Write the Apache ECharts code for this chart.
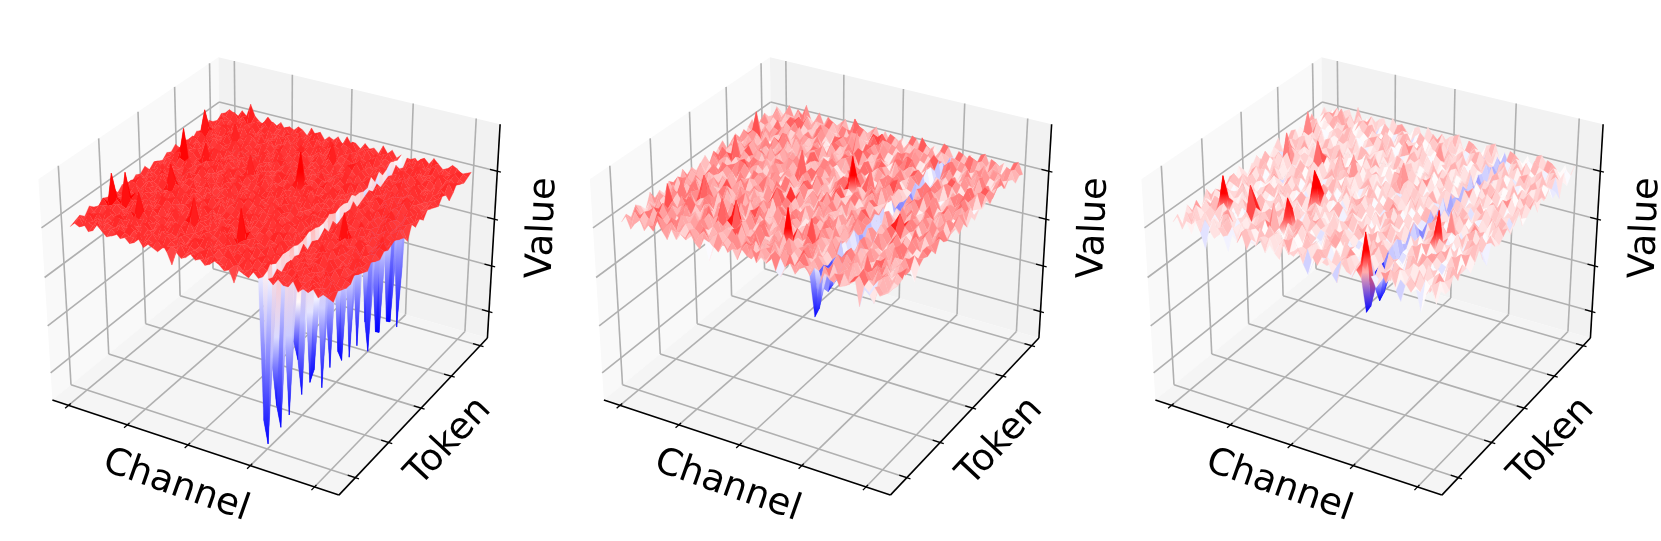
<!DOCTYPE html>
<html>
<head>
<meta charset="utf-8">
<script src="https://cdn.jsdelivr.net/npm/echarts@6/dist/echarts.min.js"></script>
<style>
  html, body { margin: 0; padding: 0; background: #fff; }
  #chart { width: 1661px; height: 541px; }
</style>
</head>
<body>
<div id="chart"></div>
<script>
// tick positions as a fraction of each box edge (the labels are blank in the picture)
const channelTicks = [0.06, 0.275, 0.49, 0.705, 0.92]
const tokenTicks = [0.1, 0.31, 0.525, 0.735, 0.945]
const valueTicks = [0.13, 0.35, 0.57, 0.79]
const axisNames = ['Channel', 'Token', 'Value']

// plateau level of each panel, in percent of box height
const plateauA = 78
const plateauB = 78
const plateauC = 77

// the low channel column (one value per token, front to back), offset from plateau
const lowChannelA = [-61,-74,-40,-60,-72,-35,-70,-38,-48,-66,-30,-64,-60,-33,-72,-42,-66,-30,-62,-68,-36,-70,-40,-68,-28,-60,-76,-44,-70,-72,-38,-70,-72,-45,-78,-50]
const lowChannelB = [-15,-13,-6,-9,-8,-7,-4,-5,-3,-5,-4,-6,-3,-4,-5,-3,-5,-4,-3,-5,-4,-6,-3,-4,-5,-3,-4,-3,-5,-3,-4,-5,-3,-4,-2,-3]
const lowChannelC = [-12,-11,-5,-12,-10,-6,-4,-2,-5,-3,-1,-5,-3,-6,-2,-4,-3,-5,-1,-4,-2,-5,-3,-1,-4,-2,-3,-5,-1,-3,-2,-4,-1,-3,-2,-1]

// offset from plateau for every token row, front to back; each row skips the low channel
const rowsA = [
[0,2,1,3,0,1,4,2,0,1,3,1,2,0, 1,3,0,2,1,0,4,1,-4,2,0,1,3,1, 2,0,1,3,2,0,1,-4,2,1,0,3,1, 2,0,3,1,1,4,0,2,1,3,0,2,1,0],
[1,3,0,2,1,4,0,1,2,0,3,2,1,1, 4,0,2,1,3,0,1,2,1,4,0,2,1,3, 0,2,3,1,0,4,1,2,0,1,3,2,0, 1,3,1,0,2,4,1,0,3,2,1,0,2,3],
[2,0,4,1,3,0,2,1,1,3,0,4,2,0, 1,2,3,0,1,4,2,0,3,1,2,1,0,2, 4,1,0,2,1,3,0,2,4,1,0,2,1, 3,0,2,1,4,0,1,3,2,0,1,4,1,2],
[0,1,2,3,0,2,1,4,3,0,1,2,0,4, 2,1,0,3,2,1,1,3,0,2,4,1,0,3, 1,2,0,4,1,3,2,0,1,3,1,2,4, 0,1,3,2,0,2,1,3,0,4,2,1,0,1],
[3,1,0,1,4,2,0,3,1,2,4,0,1,3, 0,2,4,1,1,0,3,2,1,0,2,3,4,0, 2,1,3,0,2,1,4,1,0,2,3,0,1, 2,4,0,1,3,1,2,0,4,1,0,3,2,1],
[1,2,3,0,2,0,3,1,4,0,1,2,3,1, 2,0,1,2,4,3,0,1,2,1,3,0,1,2, 0,4,1,2,3,0,1,4,2,0,1,3,2, 1,0,2,3,1,4,0,2,1,3,0,1,2,4],
[0,4,1,2,3,1,0,2,1,11,3,0,2,1, 3,1,2,0,1,2,4,0,1,3,2,1,0,4, 1,3,0,2,1,0,3,1,2,4,0,1,3, 2,1,3,0,2,1,0,4,1,2,3,0,1,2],
[2,1,14,3,1,0,2,4,0,1,2,3,1,0, 1,3,0,4,2,1,0,3,2,0,1,2,4,1, 3,0,14,1,2,3,1,0,2,1,4,0,2, 1,3,0,1,2,4,1,3,0,2,1,0,3,1],
[1,0,2,1,14,2,3,0,1,3,1,2,4,0, 2,4,1,0,3,11,1,2,0,4,1,0,2,3, 0,1,2,3,1,0,4,2,1,0,3,1,2, 4,0,1,2,3,0,1,2,1,0,3,4,1,0],
[3,2,1,0,2,4,1,2,3,0,2,1,0,3, 1,0,2,3,1,0,2,1,4,0,3,1,2,0, 2,3,1,0,2,1,0,3,4,1,2,0,1, 0,2,1,4,1,3,0,2,1,3,0,2,1,3],
[0,1,3,2,1,0,3,1,0,2,4,3,1,2, 0,3,1,2,0,4,1,3,0,2,1,2,3,1, 4,0,2,1,3,2,0,1,2,3,0,4,1, 2,3,0,1,0,2,4,1,0,3,1,2,0,1],
[2,0,1,4,0,3,2,1,4,1,0,2,3,0, 1,2,4,0,1,3,2,0,1,3,2,0,1,4, 0,2,3,1,0,1,4,2,0,1,3,1,2, 0,1,2,3,1,0,2,1,3,0,4,1,2,0],
[1,3,2,0,1,2,0,3,1,2,3,0,1,4, 2,0,1,3,1,0,2,4,1,0,3,2,1,2, 3,1,0,2,4,0,1,3,2,1,0,2,3, 1,4,0,2,1,3,0,1,4,2,0,1,3,2],
[0,2,4,1,3,1,2,0,1,0,2,4,2,1, 3,1,0,2,4,1,3,0,2,1,0,4,2,0, 1,3,2,0,1,3,0,2,1,4,1,0,2, 3,1,2,0,12,1,3,0,2,1,0,2,4,1],
[2,1,0,3,1,0,4,2,11,3,1,0,2,3, 1,0,3,2,1,2,0,3,1,4,2,0,1,3, 2,0,1,4,2,1,0,3,1,2,0,3,1, 0,2,4,1,3,0,1,2,0,3,1,4,0,2],
[1,0,3,1,2,4,0,1,3,0,2,1,4,0, 2,3,1,0,2,1,4,0,1,2,3,1,0,2, 1,4,0,3,1,2,0,1,3,2,4,0,1, 3,1,0,2,1,2,4,0,3,1,0,2,1,3],
[3,2,1,0,4,1,2,3,0,1,3,2,0,1, 4,0,2,1,3,0,1,2,3,0,1,4,2,1, 0,2,1,3,0,4,1,2,0,3,1,1,2, 0,3,2,1,0,4,1,2,0,1,3,2,0,1],
[0,1,2,4,0,3,1,0,2,4,1,0,3,2, 1,2,0,3,1,4,0,2,1,3,0,2,1,3, 2,0,4,1,3,0,2,1,0,1,3,2,4, 1,0,2,3,1,0,3,1,2,4,0,1,3,0],
[2,3,0,1,2,1,0,4,3,1,2,0,1,3, 0,1,4,2,0,3,2,1,0,1,4,2,3,0, 1,3,2,0,1,2,4,0,3,1,2,0,1, 2,4,1,0,3,1,2,0,1,3,0,2,1,-3],
[1,0,2,3,1,0,2,1,0,3,4,1,2,0, 3,1,2,0,4,1,0,3,2,1,0,2,1,4, 3,0,1,2,3,1,0,4,1,2,0,3,2, 1,0,3,1,4,0,2,1,3,2,0,1,2,3],
[0,2,1,0,3,2,4,1,2,0,1,3,0,2, 1,4,0,1,2,3,1,0,2,4,1,3,0,2, 1,2,3,0,1,4,0,2,1,3,1,0,2, 4,1,2,0,1,3,0,2,4,1,0,3,1,0],
[2,1,3,4,15,1,0,2,1,3,0,2,4,1, 0,2,3,1,0,2,1,4,3,0,2,1,0,3, 2,0,1,3,4,0,1,2,3,0,1,2,1, 0,3,2,1,0,2,4,1,0,3,1,2,0,2],
[1,0,4,2,0,3,1,2,9,1,2,4,0,3, 1,0,2,1,9,0,3,1,2,0,4,1,2,0, 3,16,2,0,1,3,2,0,4,1,2,0,3, 1,2,0,4,1,3,0,2,1,0,3,1,4,0],
[3,1,0,2,1,4,0,3,1,0,2,1,3,2, 0,4,1,2,0,3,1,2,0,1,3,2,4,0, 1,2,0,3,1,2,4,0,1,3,0,2,1, 2,0,1,3,2,0,4,1,3,0,2,1,0,3],
[0,2,3,1,2,0,1,2,4,3,0,2,1,0, 3,1,0,4,2,1,3,0,1,2,0,3,1,2, 4,0,1,3,2,1,0,2,1,3,4,0,1, 3,1,2,0,1,3,0,2,4,1,2,0,1,2],
[2,0,1,3,0,4,2,1,0,2,3,1,0,4, 1,2,3,0,1,2,0,4,1,3,2,0,1,3, 0,2,1,4,0,1,3,2,0,1,2,3,0, 1,4,0,2,3,1,2,0,1,3,1,0,2,1],
[1,3,2,0,4,1,0,3,2,1,0,2,3,1, 0,2,1,4,3,0,1,2,3,0,1,2,4,1, 2,0,3,1,0,2,1,4,3,0,1,2,0, 3,1,2,1,0,4,0,2,1,3,0,1,2,0],
[0,1,4,2,1,3,0,2,1,3,4,0,2,1, 3,0,1,2,0,3,4,1,0,2,1,3,0,2, 1,3,2,0,4,1,2,0,1,3,0,2,4, 0,2,1,3,0,2,1,4,0,1,3,2,1,3],
[2,2,0,1,3,0,2,4,1,0,1,3,2,0, 1,4,2,0,3,1,0,2,1,4,0,3,1,2, 0,1,3,2,0,1,4,2,0,3,1,2,0, 1,3,0,2,4,1,0,3,1,2,0,1,3,2],
[1,11,2,3,0,1,4,0,8,2,1,0,3,1, 2,0,3,1,2,4,0,1,3,2,1,0,2,4, 1,3,0,2,1,0,3,4,1,2,0,1,3, 2,0,1,3,1,0,4,2,1,0,3,2,1,-2],
[0,2,1,0,4,2,1,3,0,1,3,2,0,4, 1,3,0,2,1,0,3,1,4,2,0,1,3,0, 2,8,1,0,3,2,1,4,0,2,1,3,0, 1,2,4,0,3,1,0,2,3,1,0,2,4,0],
[3,0,2,1,3,0,2,1,4,0,2,1,3,0, 2,1,4,0,3,1,2,0,1,3,2,4,0,1, 3,0,2,1,4,0,2,1,3,0,1,2,1, 4,0,2,1,1,3,0,2,1,4,0,1,2,3],
[1,2,3,0,1,4,0,2,1,3,0,2,1,4, 0,2,1,3,0,1,4,2,3,0,1,2,1,3, 0,4,1,2,0,3,1,0,2,4,1,0,3, 1,0,3,2,4,0,1,2,0,3,1,2,0,1],
[0,3,1,2,0,1,3,2,0,4,1,3,2,0, 1,0,3,2,1,4,0,1,2,3,0,1,4,2, 1,0,3,1,2,0,4,1,3,0,2,1,2, 0,3,1,0,2,1,3,4,0,1,2,3,1,0],
[2,1,0,4,1,3,0,1,2,1,3,0,4,1, 2,3,0,1,2,0,1,3,4,0,2,1,0,3, 2,1,4,0,1,3,2,0,1,2,3,0,1, 3,1,2,4,0,1,3,0,2,1,0,3,2,1],
[1,3,2,1,4,2,8,3,1,0,4,2,1,3, 0,2,1,3,2,0,4,1,3,0,2,1,3,0, 4,1,2,0,3,1,2,0,4,1,3,0,2, 1,2,0,3,1,4,2,0,1,3,2,0,1,2]
]

const rowsB = [
[2,5,0,3,6,1,4,2,7,3,0,5,1,4, 3,6,2,0,5,-4,3,1,6,2,4,0,5,3, 7,1,4,2,6,0,-2,3,5,1,4,6,2, 0,5,3,6,1,2,4,7,-5,3,1,5,2,4],
[4,1,6,3,0,5,2,7,1,4,6,2,3,0, 5,1,4,6,2,0,7,3,1,5,2,4,6,0, 3,5,1,2,6,4,0,7,2,5,3,1,4, 6,2,0,4,5,1,3,6,2,0,-4,4,1,3],
[1,6,3,5,2,0,7,4,2,6,1,3,5,0, 4,2,6,1,3,5,0,4,2,7,1,5,3,6, 0,4,2,5,1,6,3,0,4,7,2,5,1, 3,6,1,4,0,5,2,7,3,1,4,6,0,5],
[5,2,0,4,6,3,1,5,0,3,6,2,4,1, 6,3,0,5,2,4,1,6,3,0,5,2,7,1, 4,3,6,0,5,2,4,1,6,3,0,5,2, 4,1,5,3,6,0,2,4,1,6,3,5,0,2],
[3,0,5,1,4,7,2,6,3,1,4,0,6,2, 5,1,3,6,0,4,2,5,7,1,3,6,0,4, 2,5,1,3,7,0,4,2,6,1,5,3,0, 6,2,4,1,5,0,9,3,6,2,4,1,5,3],
[0,4,2,6,1,3,5,0,4,7,2,5,1,3, 6,0,4,2,5,3,1,6,0,4,2,7,3,1, 5,2,6,0,4,1,3,5,2,6,0,4,1, 3,5,2,7,0,4,1,6,3,5,0,2,4,6],
[6,1,3,0,12,5,2,4,6,1,3,0,5,7, 2,4,12,1,6,13,3,5,0,2,4,6,1,3, 5,0,16,2,4,1,6,3,5,0,2,7,1, 4,6,3,0,5,2,1,4,6,0,3,5,1,4],
[2,5,4,1,3,0,6,2,7,4,1,5,3,0, 6,2,4,1,5,3,0,7,2,4,6,1,3,5, 0,4,2,6,1,3,12,0,5,2,4,1,6, 3,0,5,2,6,1,4,3,0,5,2,6,1,-3],
[4,0,2,6,5,1,3,7,0,2,6,4,1,5, 3,0,7,2,4,1,6,3,5,0,2,4,1,6, 3,5,0,2,7,4,1,6,3,0,5,2,4, 1,6,3,0,4,2,5,1,7,3,0,4,6,2],
[1,3,6,0,9,2,5,1,3,4,6,0,2,5, 1,4,3,6,0,2,5,7,1,3,4,0,6,2, 5,1,3,4,0,6,2,5,1,7,3,0,4, 2,6,1,5,3,0,4,2,6,1,5,0,3,4],
[5,2,0,3,1,6,4,5,12,0,3,6,1,4, 2,5,0,3,6,1,4,2,5,0,7,3,1,6, 4,2,0,5,3,1,6,4,2,0,5,3,6, 1,4,2,7,0,3,5,1,6,4,2,0,5,3],
[3,6,1,4,2,7,0,3,5,1,4,2,6,0, 3,5,7,1,2,4,6,0,3,1,5,2,4,6, 0,3,1,5,4,2,6,0,3,5,1,4,2, 6,0,3,5,1,4,7,2,0,6,3,1,5,4],
[0,4,5,2,6,1,3,0,4,2,5,6,1,3, 7,0,2,4,5,1,3,6,0,4,2,5,1,3, 6,0,2,4,1,5,3,6,0,2,4,7,1, 5,3,0,6,2,4,1,5,3,6,0,2,4,1],
[6,2,1,5,3,0,4,6,2,1,7,3,0,5, 4,2,6,1,3,0,5,9,2,6,4,1,3,0, 5,2,6,1,4,3,0,5,2,6,1,4,3, 0,5,2,6,4,1,3,0,7,2,5,1,4,6],
[2,5,3,0,4,6,1,2,5,3,0,4,6,1, 2,5,3,0,7,4,1,6,2,9,5,0,3,4, 1,6,2,5,3,0,4,1,6,2,7,5,3, 0,4,1,6,10,5,3,0,2,4,6,1,5,3],
[4,1,6,2,5,3,0,4,1,7,2,5,3,6, 0,4,1,5,2,6,3,0,4,1,6,2,5,0, 3,4,1,6,2,5,0,3,4,1,6,2,5, 7,0,3,1,4,6,2,5,0,3,1,4,6,2],
[1,5,0,3,6,2,4,1,5,0,6,3,2,4, 1,5,7,0,6,3,2,4,1,5,0,3,6,2, 4,7,1,0,5,3,6,2,4,1,0,5,3, 6,2,4,1,0,5,3,6,2,7,4,1,0,5],
[3,0,4,1,2,6,5,3,0,4,1,2,6,5, 3,0,4,1,2,7,5,0,3,6,4,1,2,5, 0,3,6,4,1,5,2,0,3,6,4,1,5, 2,0,7,3,6,4,1,5,2,0,3,6,1,4],
[5,2,6,3,0,1,4,5,7,6,3,0,1,4, 2,5,6,3,0,4,1,2,5,6,3,0,4,1, 2,5,7,3,0,6,4,1,2,5,3,0,6, 4,1,2,5,3,0,6,4,1,7,2,5,3,0],
[0,6,2,4,5,3,1,0,6,2,4,5,3,1, 6,0,2,4,3,5,1,6,0,2,7,3,5,1, 4,6,0,2,3,5,1,4,6,0,2,3,5, 1,4,6,0,2,3,7,1,4,5,0,2,6,3],
[2,3,7,5,1,4,0,2,3,6,5,1,4,0, 6,2,3,5,1,0,4,6,2,3,5,1,0,4, 6,2,3,1,5,0,4,6,2,7,1,5,0, 3,4,6,2,1,5,0,3,4,6,2,1,5,0],
[4,0,1,3,12,2,6,4,0,1,3,5,2,6, 4,0,3,1,5,13,2,6,4,0,3,1,5,2, 6,4,16,0,3,1,5,2,4,6,0,3,1, 5,2,4,6,0,7,3,1,5,2,4,6,0,3],
[6,3,5,0,2,1,7,3,6,5,0,2,1,4, 3,6,5,2,0,1,4,3,6,5,2,7,0,1, 4,3,6,2,5,10,1,4,3,6,2,5,0, 1,4,3,7,2,5,0,1,4,3,6,2,5,0],
[1,4,2,6,3,5,0,1,4,2,7,3,5,0, 4,1,6,2,3,5,0,4,1,6,2,3,0,5, 1,4,6,2,3,0,5,1,4,6,7,3,0, 5,1,4,6,2,0,3,5,1,4,6,2,0,3],
[3,5,0,2,4,6,1,3,5,0,2,4,6,1, 5,3,0,2,7,4,1,6,5,3,0,2,1,4, 6,5,3,0,2,1,4,6,5,3,0,2,1, 4,7,5,3,0,1,2,4,6,5,3,0,1,2],
[5,1,3,6,0,2,4,7,1,3,6,0,2,4, 1,5,3,0,6,2,4,1,5,3,0,6,2,4, 1,7,3,0,6,4,2,1,5,3,0,6,4, 2,1,5,3,6,0,4,2,1,7,3,6,0,4],
[2,6,4,1,5,3,0,2,6,4,1,5,3,0, 6,2,4,5,1,3,0,6,2,4,5,1,7,0, 3,6,2,4,5,1,0,3,6,2,4,5,1, 0,3,6,2,5,4,1,0,3,6,2,5,4,1],
[0,3,5,4,1,6,2,0,3,7,4,1,6,2, 3,0,5,4,6,1,2,3,0,5,4,6,1,2, 3,0,5,6,4,1,7,2,3,0,5,6,4, 1,2,3,0,6,5,4,1,2,3,0,6,5,4],
[4,2,12,0,6,1,3,4,2,5,0,6,1,3, 2,4,5,0,1,6,3,2,4,5,0,7,6,3, 2,4,5,1,0,6,3,2,4,5,1,0,6, 3,2,4,1,5,0,6,3,2,7,1,5,0,6],
[6,0,1,3,2,5,4,6,0,1,3,2,5,4, 0,6,1,2,3,5,4,0,6,1,2,3,5,4, 0,6,2,1,3,5,4,7,6,2,1,3,5, 0,4,6,2,1,3,5,0,4,6,2,1,3,5],
[1,4,3,5,0,7,2,1,4,3,6,0,5,2, 4,1,3,0,6,5,2,4,1,10,0,6,5,2, 4,1,0,3,6,2,5,4,1,0,3,6,2, 5,7,1,0,3,6,2,5,4,1,0,3,6,2],
[3,6,2,0,4,1,5,3,6,2,0,4,1,5, 6,3,0,2,4,5,1,6,3,0,2,4,5,1, 6,3,2,0,4,5,1,6,3,2,0,7,5, 1,6,3,2,4,0,5,1,6,3,2,4,0,5],
[5,0,4,2,1,3,6,5,7,4,2,1,3,6, 0,5,2,4,1,3,6,0,5,2,4,7,3,6, 0,5,4,2,1,3,6,0,5,4,2,1,3, 6,0,5,4,1,2,3,6,0,5,4,1,2,3],
[2,3,6,1,5,0,4,2,3,6,1,5,0,4, 3,2,1,6,5,0,4,3,2,1,6,5,7,4, 3,2,6,1,5,0,4,3,2,6,1,5,0, 4,3,2,7,6,5,0,1,4,3,2,6,5,0],
[0,5,1,4,3,2,6,0,5,1,4,3,2,6, 5,0,4,1,3,9,6,5,0,4,1,3,2,6, 5,0,1,4,3,2,8,5,0,1,4,3,2, 6,5,0,1,3,4,2,6,5,0,1,3,4,2],
[4,2,0,6,1,5,3,8,2,0,6,1,5,3, 2,4,6,0,5,1,3,2,4,6,0,5,1,3, 2,4,0,6,5,1,3,2,4,0,6,5,1, 3,2,4,0,5,6,1,3,2,4,0,5,6,1]
]

const rowsC = [
[3,6,1,5,0,7,2,-5,4,1,6,3,-3,5, 2,7,0,4,3,6,1,5,2,0,7,4,3,6, 1,-3,5,2,4,7,0,-3,6,3,1,5,2, 4,0,7,3,6,1,-3,5,2,4,-5,3,7,0],
[5,1,7,2,4,0,6,3,7,1,5,2,6,0, 4,7,3,1,5,2,6,0,4,7,1,3,5,2, 6,0,7,4,1,3,2,5,7,0,4,6,20, 3,1,5,7,0,4,2,6,3,1,7,5,0,4],
[0,4,2,6,3,7,1,5,0,4,7,3,1,6, 2,5,0,7,4,3,6,1,2,5,7,0,4,3, 6,1,5,2,0,7,3,4,6,1,5,2,8, 7,3,0,4,6,1,5,2,7,3,0,4,6,1],
[6,3,7,0,5,1,4,2,6,7,0,3,5,1, 6,4,2,0,7,3,5,1,6,4,0,2,7,3, 5,1,4,6,0,2,3,7,5,1,4,6,0, 2,3,7,5,4,1,0,6,2,3,5,7,4,1],
[2,7,4,1,6,3,0,5,7,2,4,1,6,0, 3,5,7,1,2,4,0,6,3,5,1,7,2,4, 0,6,5,3,1,7,4,2,0,6,3,5,1, 7,4,2,0,3,6,5,1,7,2,4,0,3,6],
[4,0,6,3,2,5,7,1,4,0,3,6,2,5, 7,1,4,13,3,0,6,2,5,7,1,4,3,0, 6,2,7,5,1,3,4,0,6,2,5,7,1, 3,4,0,6,7,2,5,1,3,4,0,6,7,2],
[1,5,3,7,6,17,2,4,0,5,1,16,7,3, 6,2,4,0,5,15,3,7,6,2,4,1,0,5, 3,7,2,6,4,0,1,5,3,7,2,6,4, 1,0,5,3,2,7,6,4,1,0,5,3,2,7],
[7,2,0,4,1,6,5,3,7,2,0,9,4,1, 6,5,3,7,2,9,0,4,1,6,5,3,2,7, 0,4,6,1,5,3,2,7,0,4,6,1,5, 3,2,7,0,1,4,6,5,3,2,7,0,1,4],
[3,6,5,1,7,0,2,4,3,6,5,1,7,0, 2,4,6,3,5,1,0,7,2,4,6,3,5,1, 7,0,4,2,6,3,1,5,7,0,4,2,6, 3,1,5,7,2,0,4,6,3,1,5,7,2,0],
[0,4,7,5,2,3,6,1,0,4,7,5,2,3, 6,1,4,0,7,2,5,3,6,1,4,0,7,2, 5,3,1,6,4,7,0,2,5,3,1,6,4, 7,0,2,5,6,3,1,4,7,0,2,5,6,3],
[6,1,2,3,4,7,0,5,6,1,2,3,4,7, 0,5,1,6,3,2,4,7,0,5,1,6,3,2, 4,7,5,0,1,3,6,2,4,7,5,0,1, 3,6,2,4,0,7,5,1,3,6,2,4,0,7],
[2,5,4,0,6,1,7,3,2,5,4,0,6,1, 7,3,5,2,0,4,6,1,7,3,5,2,0,4, 6,1,3,7,5,0,2,4,6,1,3,7,5, 0,2,4,6,17,1,3,5,0,2,4,6,7,1],
[5,7,1,6,3,2,0,4,5,7,1,6,3,2, 0,4,7,5,6,18,3,2,0,4,7,5,1,6, 3,2,4,0,7,1,5,6,3,2,4,0,7, 1,5,6,3,2,4,0,7,1,5,6,3,2,-3],
[1,3,6,2,7,4,5,0,1,3,6,2,7,4, 5,0,3,1,2,12,7,4,5,0,3,1,6,2, 7,4,0,5,3,6,1,2,7,4,0,5,3, 6,1,2,7,4,5,0,3,6,1,2,7,4,5],
[7,0,3,5,1,6,2,4,7,0,3,5,1,6, 2,4,0,7,5,3,1,6,2,4,0,7,3,5, 1,6,4,2,0,5,7,3,1,6,4,2,0, 5,7,3,1,12,2,4,0,5,7,3,1,6,2],
[4,2,5,7,0,1,3,6,4,2,5,7,0,1, 3,6,2,4,7,5,0,1,3,6,2,4,5,7, 0,1,6,3,2,7,4,5,0,1,6,3,2, 7,4,5,0,3,1,6,2,7,4,5,0,3,1],
[0,6,1,4,5,3,7,2,0,6,1,4,5,3, 7,2,6,0,4,1,5,3,7,2,6,0,1,4, 5,3,2,7,6,4,0,1,5,3,2,7,6, 4,0,1,5,7,3,2,6,4,0,1,5,7,3],
[3,1,7,6,2,5,4,0,3,1,7,6,2,5, 4,0,1,3,6,7,2,5,4,0,1,3,7,6, 2,5,0,4,1,6,3,7,2,5,0,4,1, 6,3,7,2,4,5,0,1,6,3,7,2,4,5],
[6,4,2,0,7,1,5,3,6,4,2,0,7,1, 5,3,4,6,0,2,7,1,5,3,4,6,2,0, 7,1,3,5,4,0,6,2,7,1,3,5,4, 0,6,2,7,5,1,3,4,0,6,2,7,5,1],
[2,7,5,3,1,6,0,4,2,7,5,3,1,6, 0,4,7,2,3,5,1,6,0,4,7,2,5,3, 1,6,4,0,7,3,2,5,1,6,4,0,7, 3,2,5,1,0,6,4,7,3,2,5,1,0,6],
[5,0,3,6,4,7,1,2,5,0,3,6,4,7, 1,2,0,5,6,3,4,7,1,2,0,5,3,6, 4,7,2,1,0,6,5,3,4,7,2,1,0, 6,5,3,4,1,7,2,0,6,5,3,4,1,7],
[1,6,4,2,14,0,7,5,1,6,4,14,3,0, 7,5,11,1,2,12,3,0,7,5,6,1,4,2, 3,0,5,7,6,2,1,4,3,0,5,7,6, 2,1,4,3,7,0,5,6,2,1,4,3,7,0],
[4,3,0,7,6,2,1,5,4,3,0,7,6,2, 1,5,3,4,7,0,6,2,1,5,3,4,0,7, 6,12,5,1,3,7,4,0,6,2,5,1,3, 7,4,0,6,1,2,5,3,7,4,0,6,1,2],
[7,1,2,5,3,4,6,0,7,1,2,5,3,4, 6,0,1,7,5,2,3,4,6,0,1,7,2,5, 3,4,0,6,1,5,7,2,3,4,0,6,1, 5,7,2,3,6,4,0,1,5,7,2,3,6,4],
[0,5,6,1,2,7,3,4,0,5,6,1,2,7, 3,4,5,0,1,6,2,7,3,4,5,0,6,1, 2,7,4,3,5,1,0,6,2,7,4,3,5, 1,0,6,2,3,7,4,5,1,0,6,2,3,7],
[3,2,4,6,7,0,5,1,3,2,4,6,7,0, 5,1,2,3,6,4,7,0,5,1,2,3,4,6, 7,0,1,5,2,6,3,4,7,0,1,5,2, 6,3,4,7,5,0,1,2,6,3,4,7,5,0],
[6,7,1,3,0,5,2,4,6,7,1,3,0,5, 2,4,7,6,3,1,0,5,2,4,7,6,1,3, 0,5,4,2,7,3,6,1,0,5,4,2,7, 3,6,1,0,2,5,4,7,3,6,1,0,2,5],
[2,0,5,4,6,3,7,1,2,0,5,4,6,3, 7,1,0,2,4,5,6,3,7,1,0,2,5,4, 6,3,1,7,0,4,2,5,6,3,1,7,0, 4,2,5,6,7,3,1,0,4,2,5,6,7,3],
[5,4,13,2,1,6,0,3,5,4,7,2,1,6, 0,3,4,5,2,7,1,6,0,3,4,5,7,2, 1,6,3,0,4,2,5,7,1,6,3,0,4, 2,5,7,1,0,6,3,4,2,5,7,1,0,6],
[1,3,2,7,5,0,4,6,1,3,2,7,5,0, 4,6,3,1,7,2,5,0,4,9,3,1,2,7, 5,0,6,4,3,7,1,2,5,0,6,4,3, 7,1,2,5,4,0,6,3,7,1,2,5,4,0],
[4,6,7,0,3,1,2,5,4,6,7,0,3,1, 2,5,6,4,0,7,3,1,2,5,6,4,7,0, 3,1,10,2,6,0,4,7,3,1,5,2,6, 0,4,7,3,2,1,5,6,0,4,7,3,2,1],
[7,3,0,5,4,2,6,1,7,3,0,5,4,2, 6,1,3,7,5,0,4,2,6,1,3,7,0,5, 4,2,1,6,3,5,7,0,4,2,1,6,3, 5,7,0,4,6,2,1,3,5,7,0,4,6,-3],
[0,2,5,1,6,7,3,4,0,2,5,1,6,7, 3,4,2,0,1,5,6,7,3,4,2,0,5,1, 6,7,4,3,2,1,0,5,6,7,4,3,2, 1,0,5,6,3,7,4,2,1,0,5,6,3,7],
[3,5,6,4,2,9,1,7,3,5,6,4,2,0, 1,7,5,3,4,6,2,0,1,7,5,3,6,4, 2,0,7,1,5,4,3,6,2,0,7,1,5, 4,3,6,2,1,0,7,5,4,3,6,2,1,0],
[6,1,4,7,0,3,5,2,6,1,4,7,0,3, 5,2,1,6,7,4,0,3,5,2,1,6,4,7, 0,3,2,5,1,7,6,4,0,3,2,5,1, 7,6,4,0,5,3,2,1,7,6,4,0,5,3],
[2,4,1,3,5,6,0,8,2,4,1,3,5,6, 0,7,4,2,3,1,5,6,0,7,4,2,1,3, 5,6,7,0,4,3,2,1,5,6,7,0,4, 3,2,1,5,0,6,7,4,3,2,1,5,0,6]
]

const panels = [
  { rows: rowsA, low: lowChannelA, plateau: plateauA, shift: 0 },
  { rows: rowsB, low: lowChannelB, plateau: plateauB, shift: 551.5 },
  { rows: rowsC, low: lowChannelC, plateau: plateauC, shift: 1103 }
]

const lowIndex = 41
const channelCount = 56

// same view as a 3d matplotlib axes: elev 30, azim -60, dist 10
const aspect = [1.5245, 1.5245, 1.19]
const uVec = [0.866, 0.5, 0]
const vVec = [-0.25, 0.433, 0.866]
const wVec = [0.433, -0.75, 0.5]

const dot = (a, b) => a[0] * b[0] + a[1] * b[1] + a[2] * b[2]

function project(bx, by, bz, shift) {
  const q = [(bx - 0.5) * aspect[0], (by - 0.5) * aspect[1], (bz - 0.5) * aspect[2]]
  const d = 10 - dot(wVec, q)
  return {
    xy: [275 + shift + 2150 * dot(uVec, q) / d, 262.9 - 2106 * dot(vVec, q) / d],
    depth: d
  }
}

function bwr(t) {
  t = Math.max(0, Math.min(1, t))
  if (t < 0.5) {
    const c = Math.round(510 * t)
    return `rgb(${c},${c},255)`
  }
  const c = Math.round(510 * (1 - t))
  return `rgb(255,${c},${c})`
}

function buildHeights(panel) {
  return panel.rows.map((row, j) => {
    const out = []
    for (let i = 0; i < channelCount; i++) {
      let d
      if (i < lowIndex) d = row[i]
      else if (i === lowIndex) d = panel.low[j]
      else d = row[i - 1]
      out.push(panel.plateau + (d || 0))
    }
    return out
  })
}

function buildQuads(panel) {
  const z = buildHeights(panel)
  const tokenCount = z.length
  const pos = (i, j) => project(0.06 + 0.88 * i / (channelCount - 1), 0.06 + 0.88 * j / (tokenCount - 1), z[j][i] / 100, panel.shift)
  const quads = []
  for (let j = 0; j < tokenCount - 1; j++) {
    for (let i = 0; i < channelCount - 1; i++) {
      const corners = [pos(i, j), pos(i + 1, j), pos(i + 1, j + 1), pos(i, j + 1)]
      const vals = [z[j][i], z[j][i + 1], z[j + 1][i + 1], z[j + 1][i]]
      const avg = (vals[0] + vals[1] + vals[2] + vals[3]) / 4
      quads.push({
        pts: corners.map(c => c.xy),
        depth: (corners[0].depth + corners[1].depth + corners[2].depth + corners[3].depth) / 4,
        avg,
        top: Math.max(...vals),
        bottom: Math.min(...vals)
      })
    }
  }
  const lo = Math.min(...quads.map(q => q.avg))
  const hi = Math.max(...quads.map(q => q.avg))
  quads.forEach(q => {
    const norm = v => (v - lo) / (hi - lo)
    q.fill = bwr(norm(q.avg))
    // tall sheets fade from pale at the plateau to full colour at the tip
    if (q.top - q.bottom > 14) {
      q.topFill = bwr(norm(q.avg + (q.top - q.avg) * 0.5))
      q.midFill = bwr((norm(q.avg + (q.top - q.avg) * 0.5) + norm(q.avg)) / 2)
      q.bottomFill = bwr(norm(q.avg + (q.bottom - q.avg) * 0.5))
    }
  })
  quads.sort((a, b) => b.depth - a.depth)
  return quads
}

function line3d(a, b, shift, color, width) {
  return { pts: [project(a[0], a[1], a[2], shift).xy, project(b[0], b[1], b[2], shift).xy], color, width }
}

function buildFrame(shift) {
  const walls = [
    { pts: [[0, 0, 0], [0, 1, 0], [0, 1, 1], [0, 0, 1]], fill: '#f9f9f9' },
    { pts: [[0, 1, 0], [1, 1, 0], [1, 1, 1], [0, 1, 1]], fill: '#f2f2f2' },
    { pts: [[0, 0, 0], [1, 0, 0], [1, 1, 0], [0, 1, 0]], fill: '#f5f5f5' }
  ].map(w => ({ fill: w.fill, pts: w.pts.map(p => project(p[0], p[1], p[2], shift).xy) }))

  const lines = []
  const grid = '#b0b0b0'
  channelTicks.forEach(x => {
    lines.push(line3d([x, 0, 0], [x, 1, 0], shift, grid, 1.6))
    lines.push(line3d([x, 1, 0], [x, 1, 1], shift, grid, 1.6))
  })
  tokenTicks.forEach(y => {
    lines.push(line3d([0, y, 0], [1, y, 0], shift, grid, 1.6))
    lines.push(line3d([0, y, 0], [0, y, 1], shift, grid, 1.6))
  })
  valueTicks.forEach(v => {
    lines.push(line3d([0, 0, v], [0, 1, v], shift, grid, 1.6))
    lines.push(line3d([0, 1, v], [1, 1, v], shift, grid, 1.6))
  })
  // axis lines and tick marks
  lines.push(line3d([0, 0, 0], [1, 0, 0], shift, '#000', 1.6))
  lines.push(line3d([1, 0, 0], [1, 1, 0], shift, '#000', 1.6))
  lines.push(line3d([1, 1, 0], [1, 1, 1], shift, '#000', 1.6))
  channelTicks.forEach(x => lines.push(line3d([x, 0.012, 0], [x, -0.018, 0], shift, '#000', 1.3)))
  tokenTicks.forEach(y => lines.push(line3d([0.975, y, 0], [1.012, y, 0], shift, '#000', 1.3)))
  valueTicks.forEach(v => lines.push(line3d([0.975, 1, v], [1.012, 1, v], shift, '#000', 1.3)))
  return { walls, lines }
}

function frameSeries(panel) {
  const { walls, lines } = buildFrame(panel.shift)
  const items = walls.concat(lines)
  return {
    type: 'custom',
    coordinateSystem: 'cartesian2d',
    silent: true,
    clip: false,
    animation: false,
    progressive: 0,
    z: 1,
    data: items.map((_, k) => [k]),
    renderItem(params, api) {
      const it = items[params.dataIndex]
      const pts = it.pts.map(p => api.coord(p))
      if (it.fill) {
        return { type: 'polygon', shape: { points: pts }, style: { fill: it.fill } }
      }
      return {
        type: 'line',
        shape: { x1: pts[0][0], y1: pts[0][1], x2: pts[1][0], y2: pts[1][1] },
        style: { stroke: it.color, lineWidth: it.width, fill: null }
      }
    }
  }
}

function surfaceSeries(panel) {
  const quads = buildQuads(panel)
  return {
    type: 'custom',
    coordinateSystem: 'cartesian2d',
    silent: true,
    clip: false,
    animation: false,
    progressive: 0,
    z: 2,
    data: quads.map((_, k) => [k]),
    renderItem(params, api) {
      const q = quads[params.dataIndex]
      const pts = q.pts.map(p => api.coord(p))
      let fill = q.fill
      if (q.topFill) {
        const ys = pts.map(p => p[1])
        fill = new echarts.graphic.LinearGradient(0, Math.min(...ys), 0, Math.max(...ys), [
          { offset: 0, color: q.topFill },
          { offset: 0.5, color: q.midFill },
          { offset: 1, color: q.bottomFill }
        ], true)
      }
      return {
        type: 'polygon',
        shape: { points: pts },
        style: { fill, stroke: fill, lineWidth: 0.25 }
      }
    }
  }
}

const labelFont = '37px "DejaVu Sans"'
const labelSpots = [
  { text: axisNames[0], x: 176, y: 486, rotation: -0.34 },
  { text: axisNames[1], x: 449, y: 442, rotation: 0.82 },
  { text: axisNames[2], x: 543, y: 228, rotation: 1.53 }
]

const chart = echarts.init(document.getElementById('chart'), null, { renderer: 'canvas' })
chart.setOption({
  animation: false,
  backgroundColor: '#fff',
  grid: { left: 0, top: 0, width: 1661, height: 541 },
  xAxis: { type: 'value', min: 0, max: 1661, show: false },
  yAxis: { type: 'value', min: 0, max: 541, inverse: true, show: false },
  series: panels.flatMap(p => [frameSeries(p), surfaceSeries(p)]),
  graphic: panels.flatMap(p => labelSpots.map(l => ({
    type: 'text',
    x: l.x + p.shift,
    y: l.y,
    rotation: l.rotation,
    z: 10,
    style: { text: l.text, font: labelFont, fill: '#000', textAlign: 'center', textVerticalAlign: 'middle' }
  })))
})
</script>
</body>
</html>
